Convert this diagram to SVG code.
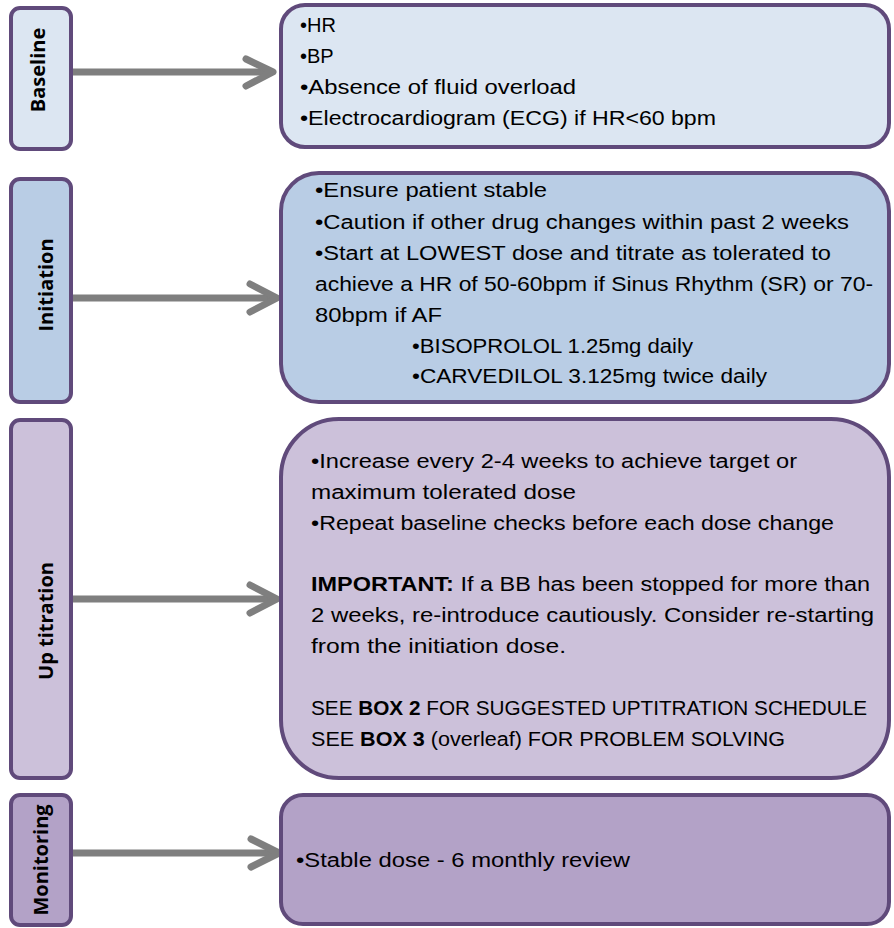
<svg xmlns="http://www.w3.org/2000/svg" width="894" height="928" viewBox="0 0 894 928">
<style>
.box{stroke:#604a7b;stroke-width:4}
.b1{fill:#dce6f2}.b2{fill:#b9cde5}.b3{fill:#ccc1da}.b4{fill:#b3a2c7}
.lbl{font-family:"Open Sans","DejaVu Sans",sans-serif;font-weight:bold;font-size:20px;fill:#000;text-anchor:middle}
.t{font-family:"Liberation Sans",Arial,sans-serif;font-size:20px;fill:#000}
.b{font-weight:bold}
.arr{stroke:#7f7f7f;stroke-width:7;fill:none;stroke-linecap:round;stroke-linejoin:round}
</style>
<rect width="894" height="928" fill="#ffffff"/>
<g id="connectors">
<line class="arr" x1="73" y1="72" x2="270" y2="72"/>
<polyline class="arr" points="246,59 273,72 246,86"/>
<line class="arr" x1="73" y1="298" x2="274" y2="298"/>
<polyline class="arr" points="250,284 277,298 250,312"/>
<line class="arr" x1="73" y1="599" x2="274" y2="599"/>
<polyline class="arr" points="250,585 277,599 250,613"/>
<line class="arr" x1="73" y1="853" x2="276" y2="853"/>
<polyline class="arr" points="251,839 279,853 251,867"/>
</g>
<g id="baseline-label">
<rect class="box b1" x="11" y="8" width="60" height="141" rx="9"/>
<text class="lbl" transform="translate(45,70) rotate(-90)">Baseline</text>
</g>
<g id="initiation-label">
<rect class="box b2" x="11" y="179" width="60" height="223" rx="9"/>
<text class="lbl" transform="translate(53,285) rotate(-90)">Initiation</text>
</g>
<g id="uptitration-label">
<rect class="box b3" x="11" y="420" width="60" height="358" rx="9"/>
<text class="lbl" transform="translate(53,621) rotate(-90)">Up titration</text>
</g>
<g id="monitoring-label">
<rect class="box b4" x="11" y="795" width="60" height="130" rx="9"/>
<text class="lbl" transform="translate(48,860) rotate(-90)">Monitoring</text>
</g>
<g id="baseline-box">
<rect class="box b1" x="281" y="5" width="608" height="142" rx="24"/>
<text class="t" x="300" y="32">•HR</text>
<text class="t" x="300" y="63">•BP</text>
<text class="t" x="300" y="94" textLength="276" lengthAdjust="spacingAndGlyphs">•Absence of fluid overload</text>
<text class="t" x="300" y="125" textLength="416" lengthAdjust="spacingAndGlyphs">•Electrocardiogram (ECG) if HR&lt;60 bpm</text>
</g>
<g id="initiation-box">
<rect class="box b2" x="281" y="173" width="608" height="229" rx="38"/>
<text class="t" x="315" y="197" textLength="232" lengthAdjust="spacingAndGlyphs">•Ensure patient stable</text>
<text class="t" x="315" y="229" textLength="534" lengthAdjust="spacingAndGlyphs">•Caution if other drug changes within past 2 weeks</text>
<text class="t" x="315" y="260" textLength="516" lengthAdjust="spacingAndGlyphs">•Start at LOWEST dose and titrate as tolerated to</text>
<text class="t" x="315" y="291" textLength="558" lengthAdjust="spacingAndGlyphs">achieve a HR of 50-60bpm if Sinus Rhythm (SR) or 70-</text>
<text class="t" x="315" y="322" textLength="127" lengthAdjust="spacingAndGlyphs">80bpm if AF</text>
<text class="t" x="412" y="353" textLength="281" lengthAdjust="spacingAndGlyphs">•BISOPROLOL 1.25mg daily</text>
<text class="t" x="412" y="383" textLength="355" lengthAdjust="spacingAndGlyphs">•CARVEDILOL 3.125mg twice daily</text>
</g>
<g id="uptitration-box">
<rect class="box b3" x="281" y="419" width="608" height="359" rx="58"/>
<text class="t" x="311" y="468" textLength="486" lengthAdjust="spacingAndGlyphs">•Increase every 2-4 weeks to achieve target or</text>
<text class="t" x="311" y="499" textLength="265" lengthAdjust="spacingAndGlyphs">maximum tolerated dose</text>
<text class="t" x="311" y="530" textLength="523" lengthAdjust="spacingAndGlyphs">•Repeat baseline checks before each dose change</text>
<text class="t" x="311" y="591" textLength="559" lengthAdjust="spacingAndGlyphs"><tspan class="b">IMPORTANT:</tspan> If a BB has been stopped for more than</text>
<text class="t" x="311" y="622" textLength="563" lengthAdjust="spacingAndGlyphs">2 weeks, re-introduce cautiously. Consider re-starting</text>
<text class="t" x="311" y="653" textLength="255" lengthAdjust="spacingAndGlyphs">from the initiation dose.</text>
<text class="t" x="311" y="715" textLength="556" lengthAdjust="spacingAndGlyphs">SEE <tspan class="b">BOX 2</tspan> FOR SUGGESTED UPTITRATION SCHEDULE</text>
<text class="t" x="311" y="746" textLength="474" lengthAdjust="spacingAndGlyphs">SEE <tspan class="b">BOX 3</tspan> (overleaf) FOR PROBLEM SOLVING</text>
</g>
<g id="monitoring-box">
<rect class="box b4" x="281" y="795" width="608" height="129" rx="22"/>
<text class="t" x="296" y="867" textLength="334" lengthAdjust="spacingAndGlyphs">•Stable dose - 6 monthly review</text>
</g>
</svg>
